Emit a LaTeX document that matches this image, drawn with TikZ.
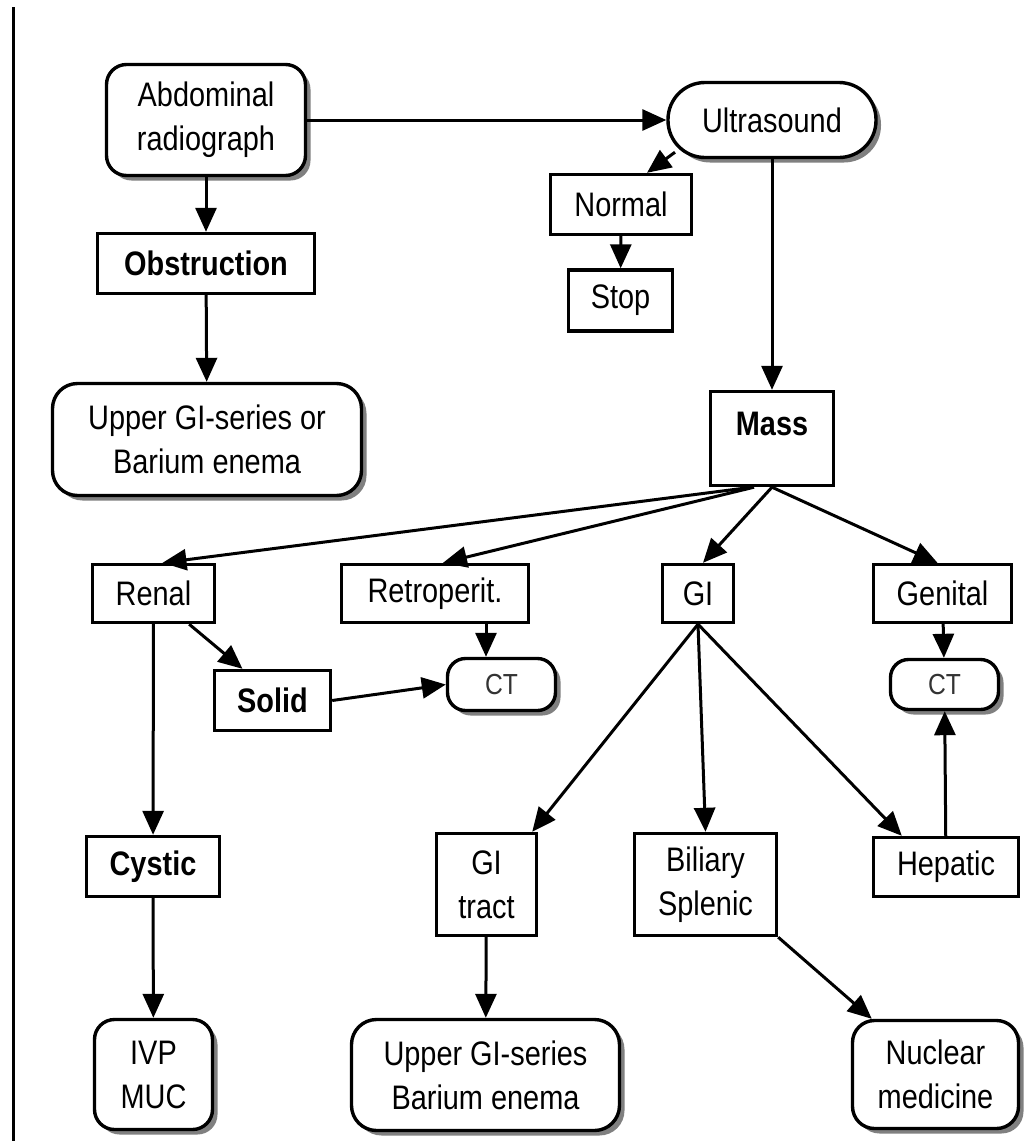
\documentclass[tikz,border=0pt]{standalone}
\usepackage{fontspec}
\setmainfont[FakeStretch=0.85]{Liberation Sans}
\usetikzlibrary{arrows.meta, shadows}

\begin{document}
\begin{tikzpicture}[
    x=1pt, y=-1pt,
    every node/.style={draw, fill=white, line width=3.4pt, inner sep=0pt, align=center,
        font=\fontsize{34}{44}\selectfont},
    snode/.style={rectangle},
    bnode/.style={rectangle, font=\fontsize{34}{44}\selectfont\bfseries},
    rnode/.style={rounded corners=#1,
        drop shadow={shadow xshift=5pt, shadow yshift=-5pt, fill=black!50, opacity=1}},
    rnode/.default=20pt,
    cnode/.style={rnode=18pt, font=\fontsize{29}{32}\selectfont, text=black!80},
    arr/.style={-{Triangle[length=24pt, width=21pt]}, line width=3pt},
]
\useasboundingbox (0,0) rectangle (1025,1141);
\draw[line width=3.4pt] (13.5,7) -- (13.5,1141);

% left branch
\node[rnode, minimum width=199pt, minimum height=111pt] (abd) at (206,120) {Abdominal\\radiograph};
\node[bnode, minimum width=217pt, minimum height=60pt] (obst) at (206,263.5) {Obstruction};
\node[rnode=25pt, minimum width=309pt, minimum height=112pt] (upper1) at (207,439.5) {Upper GI-series or\\Barium enema};

% ultrasound
\node[rnode=37pt, minimum width=208pt, minimum height=75pt] (us) at (772,120) {Ultrasound};
\node[snode, minimum width=141pt, minimum height=60pt] (normal) at (621,204.5) {Normal};
\node[snode, minimum width=104pt, minimum height=61pt] (stop) at (620.5,300.5) {Stop};
\node[bnode, minimum width=123pt, text height=43.5pt, text depth=50.5pt] (mass) at (772,438.5) {Mass};

% mass types
\node[snode, minimum width=122pt, minimum height=58pt] (renal) at (153.5,593.5) {Renal};
\node[snode, minimum width=187pt, minimum height=58pt] (retro) at (435,593.5) {Retroperit.};
\node[snode, minimum width=71pt, minimum height=58pt] (gi) at (698,593.5) {GI};
\node[snode, minimum width=138pt, minimum height=58pt] (genital) at (942.5,593.5) {Genital};

\node[bnode, minimum width=116pt, minimum height=60pt] (solid) at (272.5,700.5) {Solid};
\node[cnode, minimum width=108pt, minimum height=52pt] (ct1) at (501.5,684.5) {CT};
\node[cnode, minimum width=108pt, minimum height=50pt] (ct2) at (944.5,684.5) {CT};

\node[bnode, minimum width=133pt, minimum height=60pt] (cystic) at (153,866.5) {Cystic};
\node[snode, minimum width=100pt, minimum height=102pt] (gitract) at (486.5,884.5) {GI\\tract};
\node[snode, minimum width=142pt, minimum height=102pt] (biliary) at (705.5,884.5) {Biliary\\Splenic};
\node[snode, minimum width=145pt, minimum height=59pt] (hepatic) at (946,867) {Hepatic};

\node[rnode, minimum width=118pt, minimum height=110pt] (ivp) at (153.5,1074.5) {IVP\\MUC};
\node[rnode=25pt, minimum width=268pt, minimum height=111pt] (upper2) at (485.5,1075) {Upper GI-series\\Barium enema};
\node[rnode=22pt, minimum width=166pt, minimum height=108pt] (nuclear) at (935.5,1074.5) {Nuclear\\medicine};

\draw[arr] (abd) -- (us);
\draw[arr] (abd) -- (obst);
\draw[arr] (obst) -- (upper1);
\draw[arr] ([xshift=-97pt, yshift=7pt]us.south) -- ([xshift=26pt]normal.north);
\draw[arr] (normal) -- (stop);
\draw[arr] (us) -- (mass);

\draw[arr] ([xshift=-20pt]mass.south) -- ([xshift=9pt]renal.north);
\draw[arr] ([xshift=-18pt]mass.south) -- ([xshift=8pt]retro.north);
\draw[arr] (mass.south) -- ([xshift=5pt]gi.north);
\draw[arr] (mass.south) -- ([xshift=-5pt]genital.north);

\draw[arr] ([xshift=-27pt]renal.south east) -- ([xshift=-30pt]solid.north);
\draw[arr] (renal) -- (cystic);
\draw[arr] (solid.east) -- (ct1.west);
\draw[arr] ([xshift=51pt]retro.south) -- ([xshift=-15.5pt]ct1.north);

\draw[arr] (gi.south) -- ([xshift=-6pt]gitract.north east);
\draw[arr] (gi.south) -- (biliary.north);
\draw[arr] (gi.south) -- ([xshift=30pt]hepatic.north west);
\draw[arr] (genital) -- (ct2);
\draw[arr] (hepatic) -- (ct2);

\draw[arr] (cystic) -- (ivp);
\draw[arr] (gitract) -- (upper2);
\draw[arr] (biliary.south east) -- ([xshift=21pt]nuclear.north west);
\end{tikzpicture}
\end{document}
